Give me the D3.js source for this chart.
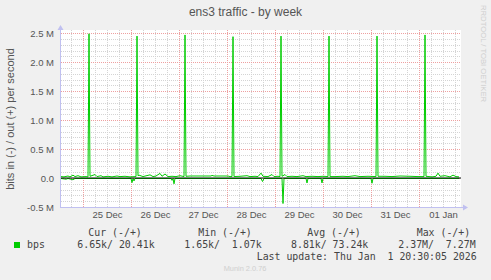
<!DOCTYPE html>
<html>
<head>
<meta charset="utf-8">
<script src="https://cdn.jsdelivr.net/npm/d3@7"></script>
<style>
  body { margin: 0; background: #f0f0f0; }
  svg { display: block; }
</style>
</head>
<body>
<svg id="chart" width="491" height="280"></svg>
<script>
// time window of the week graph
const startTime = new Date(2025, 11, 24, 13, 0)
const endTime = new Date(2026, 0, 1, 21, 0)

// out (+) traffic, hours after startTime / kbit per second
const outHours = [0, 1.5, 3.5, 4.5, 6, 7, 8.5, 10, 12.5, 13.5, 14, 14.5, 17, 18, 20, 21, 23.5, 25.5, 28, 29.5,
  32, 34.5, 37.5, 38, 38.5, 39, 41, 44.5, 46, 47.5, 49.5, 50.5, 52, 53.5, 55.5, 57.5, 59.5, 61.5, 62, 62.5,
  64.5, 75, 75.5, 76.5, 83.5, 84.5, 85.5, 86, 86.5, 89.5, 93, 94.5, 97, 98.5, 100, 101, 103.5, 105.5, 106.5, 108.5,
  109.5, 110, 110.5, 112, 113, 115.5, 118, 121, 122.5, 125.5, 128.5, 131, 133.5, 134, 134.5, 137, 141, 143.5, 147, 149.5,
  153.5, 157.5, 158, 158.5, 162, 165.5, 169.5, 174.5, 178.5, 181.5, 182, 182.5, 185.5, 187.5, 188.5, 189.5, 192, 194.5, 196, 197.5, 199]
const outKbps = [25, 20, 35, 20, 50, 25, 40, 20, 25, 20, 2490, 30, 60, 25, 40, 20, 30, 20, 35, 25,
  30, 20, 25, 2450, 40, 50, 25, 55, 25, 35, 80, 30, 70, 25, 30, 25, 40, 25, 2470, 30,
  35, 35, 45, 35, 35, 25, 25, 2440, 25, 30, 40, 25, 30, 25, 85, 30, 25, 60, 25, 30,
  25, 2450, 30, 60, 25, 30, 25, 40, 25, 30, 25, 30, 25, 2450, 25, 25, 30, 25, 40, 25,
  30, 25, 2450, 30, 30, 25, 35, 30, 25, 25, 2470, 30, 20, 30, 85, 30, 40, 20, 50, 25, 20]

// in (-) traffic, drawn below zero
const inHours = [0, 2.5, 3.5, 6, 7, 35, 35.5, 36, 36.5, 37, 55, 55.5, 56, 56.5, 57, 100, 100.75, 101.5,
  110.5, 111, 111.5, 122.5, 123, 123.5, 130, 130.5, 131, 155, 155.5, 156, 199]
const inKbps = [8, 20, 8, 30, 8, 8, 80, 10, 50, 8, 8, 40, 8, 100, 8, 8, 60, 8,
  8, 440, 8, 8, 85, 8, 8, 85, 8, 8, 90, 8, 7]

const yTicks = [-500000, 0, 500000, 1000000, 1500000, 2000000, 2500000]
const yTickLabels = ['-0.5 M', '0.0', '0.5 M', '1.0 M', '1.5 M', '2.0 M', '2.5 M']

const legendHeads = ['Cur (-/+)', 'Min (-/+)', 'Avg (-/+)', 'Max (-/+)']
const legendValues = ['6.65k/ 20.41k', '1.65k/  1.07k', '8.81k/ 73.24k', '2.37M/  7.27M']
const lastUpdate = 'Last update: Thu Jan  1 20:30:05 2026'

const svg = d3.select('#chart')
const plotLeft = 61, plotRight = 461, plotTop = 30, plotBottom = 207

const x = d3.scaleTime().domain([startTime, endTime]).range([plotLeft, plotRight])
const y = d3.scaleLinear().domain([-500000, 2555000]).range([plotBottom, plotTop])

svg.append('rect').attr('width', 491).attr('height', 280).attr('fill', '#f0f0f0')
svg.append('rect')
  .attr('x', plotLeft).attr('y', plotTop)
  .attr('width', plotRight - plotLeft).attr('height', plotBottom - plotTop)
  .attr('fill', '#ffffff')

const grid = svg.append('g').attr('shape-rendering', 'crispEdges')

// minor grid
grid.selectAll('.vmin')
  .data(d3.timeHour.every(6).range(startTime, endTime))
  .enter().append('line')
  .attr('x1', d => Math.round(x(d)) + 0.5).attr('x2', d => Math.round(x(d)) + 0.5)
  .attr('y1', plotTop).attr('y2', plotBottom)
  .attr('stroke', '#d4d4d4').attr('stroke-dasharray', '1,1')

grid.selectAll('.hmin')
  .data(d3.range(-500000, 2500001, 100000))
  .enter().append('line')
  .attr('x1', plotLeft).attr('x2', plotRight)
  .attr('y1', d => Math.round(y(d)) + 0.5).attr('y2', d => Math.round(y(d)) + 0.5)
  .attr('stroke', '#d4d4d4').attr('stroke-dasharray', '1,1')

// major grid
grid.selectAll('.vmaj')
  .data(d3.timeDay.range(startTime, endTime))
  .enter().append('line')
  .attr('x1', d => Math.round(x(d)) + 0.5).attr('x2', d => Math.round(x(d)) + 0.5)
  .attr('y1', plotTop).attr('y2', plotBottom)
  .attr('stroke', '#eea0a0').attr('stroke-dasharray', '1,1')

grid.selectAll('.hmaj')
  .data(yTicks)
  .enter().append('line')
  .attr('x1', plotLeft).attr('x2', plotRight)
  .attr('y1', d => Math.round(y(d)) + 0.5).attr('y2', d => Math.round(y(d)) + 0.5)
  .attr('stroke', '#eea0a0').attr('stroke-dasharray', '1,1')

svg.append('clipPath').attr('id', 'clip')
  .append('rect').attr('x', plotLeft).attr('y', plotTop)
  .attr('width', plotRight - plotLeft).attr('height', plotBottom - plotTop)

const hourTime = h => new Date(startTime.getTime() + h * 3600000)

const line = d3.line()
  .x(d => x(hourTime(d[0])))
  .y(d => y(d[1]))

const inPoints = inHours.map((h, i) => [h, -inKbps[i] * 1000])
const outPoints = outHours.map((h, i) => [h, outKbps[i] * 1000])

const plot = svg.append('g').attr('clip-path', 'url(#clip)')

plot.append('path')
  .attr('d', line(inPoints))
  .attr('fill', 'none').attr('stroke', '#00cc00').attr('stroke-width', 1)

plot.append('path')
  .attr('d', line(outPoints))
  .attr('fill', 'none').attr('stroke', '#00cc00').attr('stroke-width', 1)

// zero rule
plot.append('line')
  .attr('x1', plotLeft).attr('x2', plotRight)
  .attr('y1', y(0)).attr('y2', y(0))
  .attr('stroke', '#000').attr('stroke-width', 1)

// axes lines and arrows
const axisColor = '#c0c0f0'
svg.append('line')
  .attr('x1', plotLeft - 0.5).attr('x2', plotLeft - 0.5).attr('y1', plotTop - 2).attr('y2', plotBottom + 1)
  .attr('stroke', axisColor)
svg.append('line')
  .attr('x1', plotLeft - 1).attr('x2', plotRight + 3).attr('y1', plotBottom + 0.5).attr('y2', plotBottom + 0.5)
  .attr('stroke', axisColor)
svg.append('path')
  .attr('d', `M${plotLeft - 3.5},${plotTop} L${plotLeft - 0.5},${plotTop - 5} L${plotLeft + 2.5},${plotTop} Z`)
  .attr('fill', axisColor)
svg.append('path')
  .attr('d', `M${plotRight + 2},${plotBottom - 2.5} L${plotRight + 7},${plotBottom + 0.5} L${plotRight + 2},${plotBottom + 3.5} Z`)
  .attr('fill', axisColor)

const labelFont = '"Liberation Sans", Arial, sans-serif'

// y axis labels
const yAxis = d3.axisLeft(y)
  .tickValues(yTicks)
  .tickFormat((d, i) => yTickLabels[i])
  .tickSize(0)
  .tickPadding(0)
const gy = svg.append('g').attr('transform', `translate(${plotLeft - 7},0)`).call(yAxis)
gy.select('.domain').remove()
gy.selectAll('text')
  .attr('font-family', labelFont).attr('font-size', '9.5px').attr('fill', '#555')
  .attr('dy', '0.34em')

// x axis labels at noon
const noons = d3.timeDay.range(startTime, endTime)
  .map(d => d3.timeHour.offset(d, 12))
  .filter(d => d > startTime && d < endTime)
const xAxis = d3.axisBottom(x)
  .tickValues(noons)
  .tickFormat(d3.timeFormat('%d %b'))
  .tickSize(0)
  .tickPadding(0)
const gx = svg.append('g').attr('transform', `translate(0,${plotBottom + 3})`).call(xAxis)
gx.select('.domain').remove()
gx.selectAll('text')
  .attr('font-family', labelFont).attr('font-size', '9.5px').attr('fill', '#555')
  .attr('dy', '0.85em')

// title
svg.append('text')
  .attr('x', 245.5).attr('y', 15.5)
  .attr('text-anchor', 'middle')
  .attr('font-family', labelFont).attr('font-size', '12px').attr('fill', '#555')
  .text('ens3 traffic - by week')

// vertical label
svg.append('text')
  .attr('transform', 'translate(14,119) rotate(-90)')
  .attr('text-anchor', 'middle')
  .attr('font-family', labelFont).attr('font-size', '11px').attr('fill', '#555')
  .text('bits in (-) / out (+) per second')

svg.append('text')
  .attr('transform', 'translate(480.5,5) rotate(90)')
  .attr('font-family', labelFont).attr('font-size', '7.7px').attr('fill', '#cfcfcf')
  .text('RRDTOOL / TOBI OETIKER')

// legend (monospace, keep the double spaces)
const keepSpaces = s => s.replace(/ /g, '\u00a0')
const mono = '"DejaVu Sans Mono", monospace'
const legend = svg.append('g')
  .attr('font-family', mono).attr('font-size', '9.9px').attr('fill', '#444')

const headX = [88.3, 198.3, 307.3, 416.7]
const valX = [77.3, 184.3, 291, 398.3]

legend.selectAll('.head')
  .data(legendHeads)
  .enter().append('text')
  .attr('x', (d, i) => headX[i]).attr('y', 236.3)
  .text(d => keepSpaces(d))

legend.append('rect')
  .attr('x', 14).attr('y', 242).attr('width', 6).attr('height', 6)
  .attr('fill', '#00cc00')
legend.append('text').attr('x', 27).attr('y', 248).text('bps')

legend.selectAll('.val')
  .data(legendValues)
  .enter().append('text')
  .attr('x', (d, i) => valX[i]).attr('y', 248)
  .text(d => keepSpaces(d))

legend.append('text')
  .attr('x', 476.7).attr('y', 259.6).attr('text-anchor', 'end')
  .text(keepSpaces(lastUpdate))

svg.append('text')
  .attr('x', 245).attr('y', 271)
  .attr('text-anchor', 'middle')
  .attr('font-family', labelFont).attr('font-size', '7.4px').attr('fill', '#cfcfcf')
  .text('Munin 2.0.76')
</script>
</body>
</html>
